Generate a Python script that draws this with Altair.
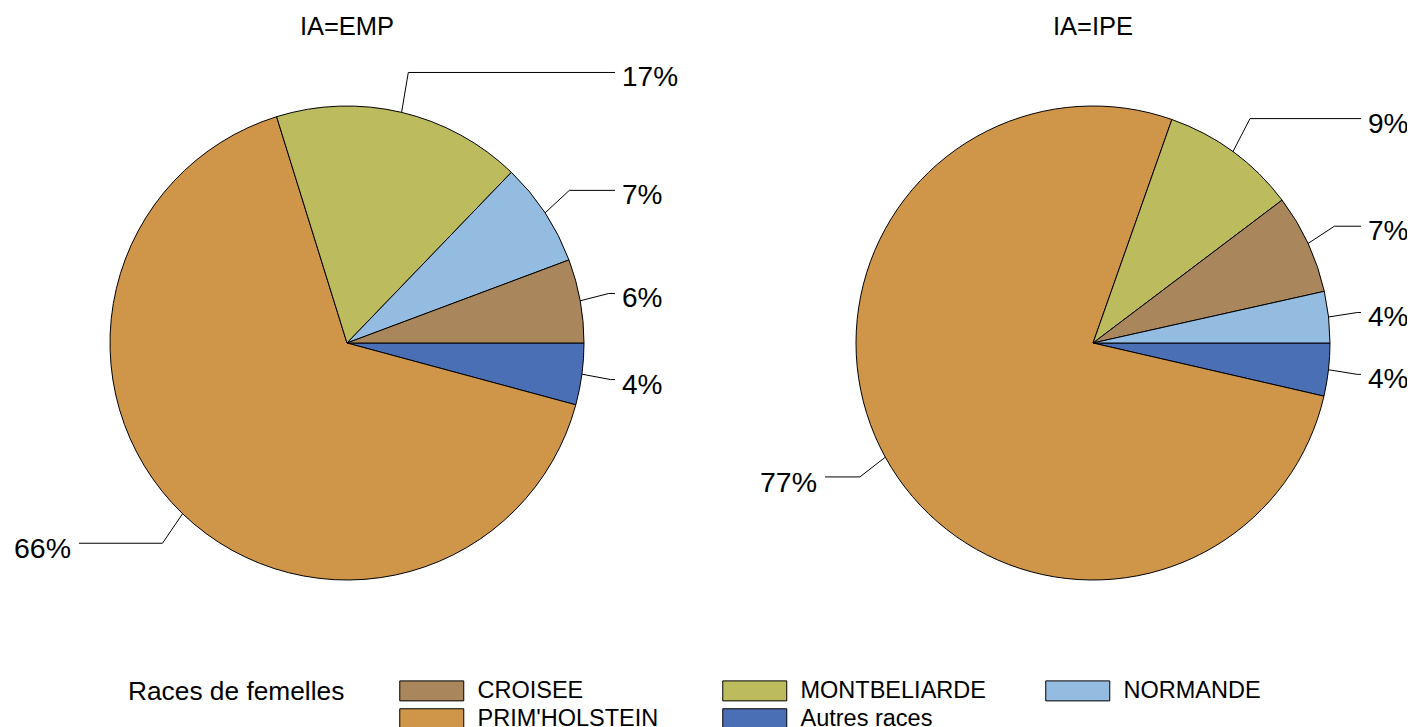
import math
import altair as alt
import pandas as pd

# ---------------- data ----------------
ia_groups = ["EMP", "IPE"]
races = ["Autres races", "PRIM'HOLSTEIN", "MONTBELIARDE", "NORMANDE", "CROISEE"]
pct_emp = [4.2, 66.0, 17.0, 7.1, 5.7]
pct_ipe = [3.6, 76.8, 9.3, 3.5, 6.8]
legend_order = ["CROISEE", "MONTBELIARDE", "NORMANDE", "PRIM'HOLSTEIN", "Autres races"]
colors = ["#A9865B", "#BCBC5E", "#94BCE1", "#CF964A", "#4A6FB5"]

rows = []
for ia, vals in zip(ia_groups, [pct_emp, pct_ipe]):
    for r, v in zip(races, vals):
        rows.append({"IA": ia, "race": r, "pct": v})
df = pd.DataFrame(rows)
titles_df = pd.DataFrame({"IA": ia_groups})

# ---------------- layout ----------------
W, H = 1399, 719
CXL, CXR, CY = 339, 1085, 335
R = 237
RX2, RY2 = 266, 278   # elbow of leader lines
R3 = 268              # horizontal extent of leader lines
FONT = "Liberation Sans, Arial, Helvetica, sans-serif"

cx_expr = f"datum.IA == 'EMP' ? {CXL} : {CXR}"

base = alt.Chart(df).transform_calculate(
    isother="datum.race == 'Autres races' ? 0 : 1"
).transform_window(
    cum="sum(pct)",
    groupby=["IA"],
    sort=[alt.SortField("isother", order="ascending"), alt.SortField("pct", order="descending")],
    frame=[None, 0],
).transform_calculate(
    start="datum.cum - datum.pct",
    end="datum.cum",
    a="(datum.cum - datum.pct/2) / 100 * 2 * PI",
    cx=cx_expr,
    cy=f"{CY}",
).transform_calculate(
    ex=f"datum.cx + {R} * cos(datum.a)",
    ey=f"datum.cy + {R} * sin(datum.a)",
    bx=f"datum.cx + {RX2} * cos(datum.a)",
    by=f"datum.cy + {RY2} * sin(datum.a)",
    side="cos(datum.a) >= 0 ? 1 : -1",
    label="format(round(datum.pct), 'd') + '%'",
).transform_calculate(
    hx=f"datum.cx + datum.side * {R3}",
    tx=f"datum.side > 0 ? datum.cx + {R3} + 7 : datum.cx - {R3} - 8",
)

pies = base.mark_arc(stroke="black", strokeWidth=1, radius=R).encode(
    x=alt.X("cx:Q", scale=None),
    y=alt.Y("cy:Q", scale=None),
    theta=alt.Theta("start:Q", stack=None,
                    scale=alt.Scale(domain=[0, 100], range=[math.pi / 2, math.pi / 2 + 2 * math.pi])),
    theta2="end:Q",
    color=alt.Color(
        "race:N",
        scale=alt.Scale(domain=legend_order, range=colors),
        legend=alt.Legend(
            title="Races de femelles",
            orient="none",
            legendX=120,
            legendY=671,
            direction="horizontal",
            columns=3,
            gridAlign="all",
            titleOrient="left",
            titleAnchor="start",
            titleBaseline="top",
            titleFont=FONT,
            titleFontSize=26.3,
            titleFontWeight="normal",
            titleColor="black",
            titleLimit=400,
            titlePadding=53,
            labelFont=FONT,
            labelFontSize=23.5,
            labelColor="black",
            labelLimit=400,
            labelOffset=34,
            symbolType="M-3.2,-1H3.2V1H-3.2Z",
            symbolSize=400,
            symbolOffset=22,
            symbolStrokeColor="black",
            symbolStrokeWidth=1,
            symbolOpacity=1,
            columnPadding=57,
            rowPadding=3,
        ),
    ),
    order=alt.Order("start:Q"),
)

leader1 = base.mark_rule(color="black", strokeWidth=1).encode(
    x=alt.X("ex:Q", scale=None), y=alt.Y("ey:Q", scale=None),
    x2="bx:Q", y2="by:Q",
)
leader2 = base.mark_rule(color="black", strokeWidth=1).encode(
    x=alt.X("bx:Q", scale=None), y=alt.Y("by:Q", scale=None),
    x2="hx:Q", y2="by:Q",
)
labels_r = base.transform_filter("datum.side > 0").mark_text(
    font=FONT, fontSize=28, align="left", baseline="middle", dy=6, color="black"
).encode(x=alt.X("tx:Q", scale=None), y=alt.Y("by:Q", scale=None), text="label:N")
labels_l = base.transform_filter("datum.side < 0").mark_text(
    font=FONT, fontSize=28.5, align="right", baseline="middle", dy=6, color="black"
).encode(x=alt.X("tx:Q", scale=None), y=alt.Y("by:Q", scale=None), text="label:N")

titles = alt.Chart(titles_df).transform_calculate(
    cx=cx_expr, ty="19", t="'IA=' + datum.IA"
).mark_text(font=FONT, fontSize=25.5, align="center", baseline="middle", color="black").encode(
    x=alt.X("cx:Q", scale=None), y=alt.Y("ty:Q", scale=None), text="t:N"
)

chart = alt.layer(pies, leader1, leader2, labels_r, labels_l, titles).properties(
    width=W, height=H, autosize=alt.AutoSizeParams(type="none"), padding=0
).configure(background="white", view=alt.ViewConfig(stroke=None))

chart.save("out.html", embed_options={"renderer": "svg", "actions": False})
